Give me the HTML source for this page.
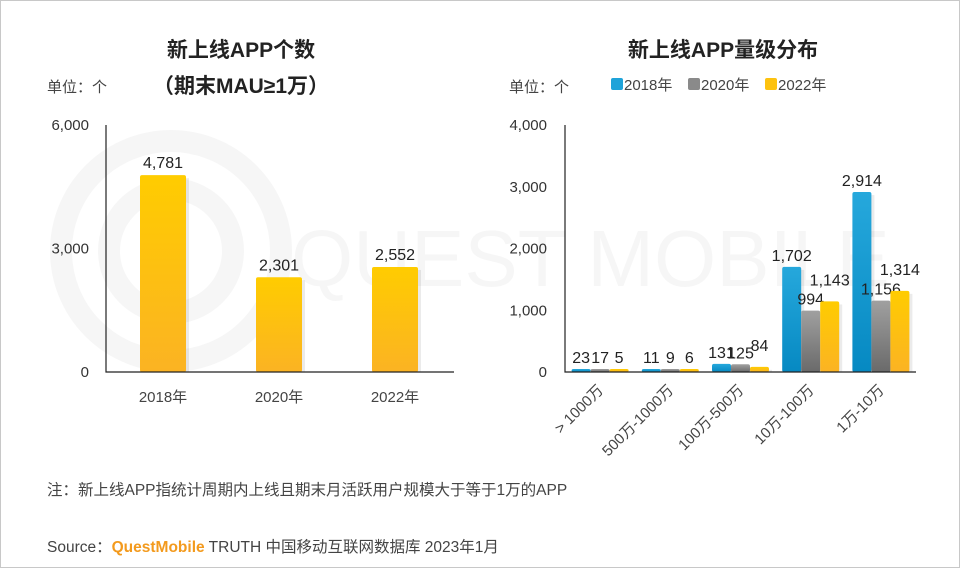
<!DOCTYPE html>
<html><head><meta charset="utf-8">
<style>
body{margin:0;width:960px;height:568px;background:#fff;font-family:"Liberation Sans","Noto Sans CJK SC",sans-serif;overflow:hidden}
#wrap{position:absolute;left:0;top:0;width:958px;height:566px;border:1px solid #c8c8c8;}
svg text{font-family:"Liberation Sans","Noto Sans CJK SC",sans-serif}
</style></head><body>
<div id="wrap">
<svg id="s" width="960" height="568" xmlns="http://www.w3.org/2000/svg">
<defs>
<linearGradient id="gy" x1="0" y1="0" x2="0" y2="1"><stop offset="0" stop-color="#ffcc00"/><stop offset="1" stop-color="#fbb323"/></linearGradient>
<linearGradient id="gb" x1="0" y1="0" x2="0" y2="1"><stop offset="0" stop-color="#26a8dc"/><stop offset="1" stop-color="#0689c2"/></linearGradient>
<linearGradient id="gg" x1="0" y1="0" x2="0" y2="1"><stop offset="0" stop-color="#a0a0a0"/><stop offset="1" stop-color="#6a6a6a"/></linearGradient>
</defs>
<g opacity="0.03">
<circle cx="170" cy="250" r="110" fill="none" stroke="#000" stroke-width="22"/>
<circle cx="170" cy="250" r="62" fill="none" stroke="#000" stroke-width="22"/>
<text x="290" y="285" font-size="80" fill="#000">QUEST MOBILE</text>
</g>
<text x="240" y="56" text-anchor="middle" font-size="21" font-weight="bold" fill="#222">新上线APP个数</text>
<text x="240" y="92" text-anchor="middle" font-size="21" font-weight="bold" fill="#222">（期末MAU≥1万）</text>
<text x="46" y="91" font-size="15" fill="#444">单位：个</text>
<text x="722" y="56" text-anchor="middle" font-size="21" font-weight="bold" fill="#222">新上线APP量级分布</text>
<text x="508" y="91" font-size="15" fill="#444">单位：个</text>
<g id="legend"></g>
<g id="left"></g><g id="right"></g>
<text x="46" y="494" font-size="15.5" fill="#444">注：新上线APP指统计周期内上线且期末月活跃用户规模大于等于1万的APP</text>
<text x="46" y="551" font-size="15.5" fill="#444">Source：<tspan fill="#f39a1d" font-weight="bold">QuestMobile</tspan> TRUTH 中国移动互联网数据库 2023年1月</text>
</svg></div>
<script>
const leftCats=["2018年","2020年","2022年"];
const leftVals=[4781,2301,2552];
const leftTicks=[0,3000,6000];
const rightCats=["> 1000万","500万-1000万","100万-500万","10万-100万","1万-10万"];
const s2018=[23,11,131,1702,2914];
const s2020=[17,9,125,994,1156];
const s2022=[5,6,84,1143,1314];
const rightTicks=[0,1000,2000,3000,4000];
const seriesNames=["2018年","2020年","2022年"];
const NS="http://www.w3.org/2000/svg";
function mk(p,t,a){const e=document.createElementNS(NS,t);for(const k in a)e.setAttribute(k,a[k]);p.appendChild(e);return e;}
const fmt=v=>v.toLocaleString("en-US");
// left
const L=document.getElementById("left");
const lx0=105,lx1=453,ly0=371,ly1=124;
const ly=v=>ly0-(v/6000)*(ly0-ly1);
const lband=(lx1-lx0)/leftCats.length;
leftTicks.forEach(t=>{const e=mk(L,"text",{x:88,y:ly(t)+5,"text-anchor":"end","font-size":15,fill:"#333"});e.textContent=fmt(t);

});
leftVals.forEach((v,i)=>{const cx=lx0+lband*(i+0.5);
mk(L,"rect",{x:cx-21,y:ly(v)+3,width:46,height:ly0-ly(v)-3,fill:"#000",opacity:0.08});
const r=mk(L,"rect",{x:cx-24,y:ly(v),width:46,height:ly0-ly(v),fill:"url(#gy)",rx:2});


const t=mk(L,"text",{x:cx-1,y:ly(v)-7,"text-anchor":"middle","font-size":16,fill:"#222"});t.textContent=fmt(v);


const c=mk(L,"text",{x:cx-1,y:401,"text-anchor":"middle","font-size":15,fill:"#444"});c.textContent=leftCats[i];

});
mk(L,"path",{d:`M${lx0},${ly1}V${ly0}H${lx1}`,fill:"none",stroke:"#222","stroke-width":1.2});
// right
const R=document.getElementById("right");
const rx0=564,rx1=915,ry0=371,ry1=124;
const ry=v=>ry0-(v/4000)*(ry0-ry1);
const rband=(rx1-rx0)/rightCats.length;
rightTicks.forEach(t=>{const e=mk(R,"text",{x:546,y:ry(t)+5,"text-anchor":"end","font-size":15,fill:"#333"});e.textContent=fmt(t);

});
const series=[s2018,s2020,s2022],fills=["url(#gb)","url(#gg)","url(#gy)"],bw=19;
rightCats.forEach((c,i)=>{const gx=rx0+rband*i+(rband-3*bw)/2;
series.forEach((sv,j)=>{const v=sv[i],x=gx+j*bw,h=Math.max(ry0-ry(v),3);
mk(R,"rect",{x:x+3,y:ry0-h+3,width:bw,height:h-3,fill:"#000",opacity:0.08});
const r=mk(R,"rect",{x:x,y:ry0-h,width:bw,height:h,fill:fills[j],rx:2});


const t=mk(R,"text",{x:x+bw/2,y:ry0-h-6-(j===2&&i>=2?10:0),"text-anchor":"middle","font-size":16,fill:"#222"});t.textContent=fmt(v);

});
const cx=rx0+rband*(i+0.5);
const l=mk(R,"text",{x:0,y:0,"text-anchor":"end","font-size":15,fill:"#444",transform:`translate(${cx+4},${390}) rotate(-45)`});l.textContent=c;

});
mk(R,"path",{d:`M${rx0},${ry1}V${ry0}H${rx1}`,fill:"none",stroke:"#222","stroke-width":1.2});
// legend
const G=document.getElementById("legend");
const lcol=["#1fa3d9","#8a8a8a","#fdc20f"];
seriesNames.forEach((n,i)=>{const x=610+i*77;
const r=mk(G,"rect",{x:x,y:77,width:12,height:12,fill:lcol[i],rx:2});


const t=mk(G,"text",{x:x+13,y:89,"font-size":15,fill:"#444"});t.textContent=n;

});
</script>
</body></html>
